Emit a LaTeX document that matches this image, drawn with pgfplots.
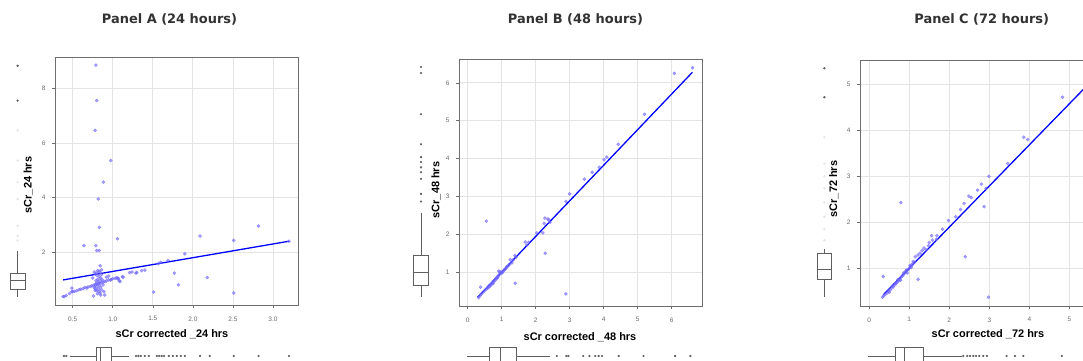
\documentclass[border=0pt]{standalone}
\usepackage{fontspec}
\setmainfont{Liberation Sans}
\newfontfamily\titlefont{DejaVu Sans}
\usepackage{pgfplots}
\pgfplotsset{compat=1.18}
\definecolor{ptcol}{RGB}{112,102,255}
\definecolor{bxcol}{RGB}{95,95,95}
\definecolor{fbxcol}{RGB}{228,228,228}
\definecolor{grcol}{RGB}{228,228,228}
\definecolor{frcol}{RGB}{110,110,110}
\definecolor{tkcol}{RGB}{105,105,105}
\definecolor{ttlcol}{RGB}{50,50,50}
\pgfplotsset{
  panel/.style={
    scale only axis, anchor=south west,
    axis line style={frcol, line width=0.9bp},
    grid=major, grid style={grcol, line width=0.8bp},
    tick align=outside, major tick length=3bp, tick style={frcol, line width=0.6bp},
    xtick pos=bottom, ytick pos=left,
    xticklabel style={font=\fontsize{6.5}{7}\selectfont, text=tkcol, yshift=-5bp},
    yticklabel style={font=\fontsize{6.5}{7}\selectfont, text=tkcol, xshift=-3bp},
    /pgf/number format/assume math mode=true,
    clip=false,
  },
  scatpts/.style={color=ptcol, only marks, mark=*, mark size=1.6bp, mark options={solid, draw=ptcol, fill=ptcol, opacity=0.6}},
  fitline/.style={color=blue, line width=1.3bp, no marks},
  bxl/.style={color=bxcol, line width=0.6bp, no marks},
  outl/.style={color=bxcol, only marks, mark=*, mark size=0.9bp, mark options={solid, draw=bxcol, fill=bxcol}},
  foutl/.style={color=fbxcol, only marks, mark=*, mark size=0.9bp, mark options={solid, draw=fbxcol, fill=fbxcol}},
}
\begin{document}
\begin{tikzpicture}
\path[use as bounding box] (0bp,0bp) rectangle (1083bp,361bp);
\clip (0bp,0bp) rectangle (1083bp,361bp);
\fill[white] (0bp,0bp) rectangle (1083bp,361bp);

% ---------------- Panel A ----------------
\begin{axis}[panel, at={(55bp,56bp)}, width=243bp, height=248bp,
  xmin=0.279, xmax=3.3125, ymin=0.06, ymax=9.16,
  xtick={0.5,1.0,1.5,2.0,2.5,3.0}, xticklabels={0.5,1.0,1.5,2.0,2.5,3.0},
  ytick={2,4,6,8}]
\addplot[scatpts] coordinates {
(0.79,8.86)(0.80,7.56)(0.78,6.47)(0.975,5.36)(0.883,4.57)(0.82,3.95)(0.833,2.91)
(0.64,2.24)(0.79,2.24)(0.80,2.06)(0.83,2.06)(1.06,2.49)(2.09,2.59)(2.51,2.43)
(2.82,2.96)(3.2,2.40)(1.9,1.94)(1.69,1.69)(1.6,1.63)(1.57,1.58)(1.77,1.23)
(2.18,1.07)(1.82,0.80)(1.51,0.53)(2.51,0.50)(1.40,1.34)(1.36,1.32)(1.30,1.25)
(1.29,1.23)(1.24,1.27)(1.21,1.25)(1.13,1.08)(1.12,1.10)(1.09,0.92)(1.06,1.03)
(0.845,1.50)(0.81,1.32)(0.77,1.27)(0.86,1.35)(0.80,1.22)(0.83,1.30)
(0.38,0.37)(0.395,0.37)(0.42,0.41)(0.46,0.48)(0.49,0.55)(0.50,0.55)(0.52,0.56)
(0.55,0.58)(0.58,0.62)(0.60,0.64)(0.63,0.66)(0.65,0.70)(0.675,0.68)(0.69,0.72)
(0.72,0.74)(0.74,0.76)(0.76,0.78)(0.78,0.80)(0.80,0.82)(0.82,0.84)(0.84,0.86)
(0.86,0.88)(0.88,0.90)(0.90,0.92)(0.92,0.94)(0.945,0.98)(0.98,1.00)(1.00,1.02)
(1.03,1.04)(1.05,1.06)(1.07,1.04)
(0.49,0.68)(0.85,0.43)(0.90,0.43)(0.76,0.39)(0.78,0.60)(0.80,0.58)(0.82,0.65)
(0.84,0.50)(0.85,0.72)(0.79,0.95)(0.81,1.00)(0.83,1.10)(0.80,1.15)(0.78,1.20)
(0.85,1.05)(0.87,0.98)(0.82,0.90)(0.86,1.18)(0.84,1.25)(0.79,0.85)(0.83,0.78)
(0.77,0.70)(0.86,0.62)(0.89,0.55)(0.81,0.47)(0.75,1.05)(0.92,1.08)(0.95,1.12)
(0.97,0.97)(1.08,0.95)(0.80,0.73)(0.84,0.95)(0.83,0.56)(0.78,0.66)(0.88,0.80)
};
\addplot[fitline] coordinates {(0.38,0.98) (3.2,2.40)};
% left marginal boxplot
\addplot[bxl] coordinates {(-0.2835,0.65)(-0.0915,0.65)(-0.0915,1.24)(-0.2835,1.24)(-0.2835,0.65)};
\addplot[bxl] coordinates {(-0.2835,0.98)(-0.0915,0.98)};
\addplot[bxl] coordinates {(-0.1875,1.24)(-0.1875,2.05)};
\addplot[bxl] coordinates {(-0.1875,0.65)(-0.1875,0.36)};
\addplot[foutl] coordinates {(-0.1875,6.47)(-0.1875,5.36)(-0.1875,4.57)(-0.1875,3.95)(-0.1875,2.96)(-0.1875,2.59)(-0.1875,2.43)};
\addplot[outl] coordinates {(-0.1875,8.84)(-0.1875,7.56)};
% bottom marginal boxplot
\addplot[bxl] coordinates {(0.79,-1.48)(0.98,-1.48)(0.98,-2.14)(0.79,-2.14)(0.79,-1.48)};
\addplot[bxl] coordinates {(0.84,-1.48)(0.84,-2.14)};
\addplot[bxl] coordinates {(0.466,-1.81)(0.79,-1.81)};
\addplot[bxl] coordinates {(0.98,-1.81)(1.20,-1.81)};
\addplot[outl] coordinates {(0.39,-1.81)(0.42,-1.81)(1.29,-1.81)(1.32,-1.81)(1.35,-1.81)(1.40,-1.81)
(1.45,-1.81)(1.55,-1.81)(1.58,-1.81)(1.61,-1.81)(1.64,-1.81)(1.70,-1.81)(1.75,-1.81)
(1.80,-1.81)(1.85,-1.81)(1.90,-1.81)(2.09,-1.81)(2.21,-1.81)(2.51,-1.81)(2.82,-1.81)(3.2,-1.81)};
\end{axis}

% ---------------- Panel B ----------------
\begin{axis}[panel, at={(459bp,55bp)}, width=243.3bp, height=247bp,
  xmin=-0.256, xmax=6.9, ymin=0.11, ymax=6.63,
  xtick={0,1,2,3,4,5,6}, ytick={1,2,3,4,5,6}]
\addplot[scatpts] coordinates {
(6.61,6.40)(6.08,6.25)(5.2,5.17)(4.43,4.38)(4.09,4.04)(4.01,3.97)(3.87,3.77)
(3.66,3.64)(3.43,3.46)(3.0,3.07)(2.89,2.87)(2.89,0.43)(2.27,2.43)(2.36,2.41)
(2.42,2.32)(2.38,2.38)(2.25,2.29)(2.21,2.04)(2.03,2.04)(2.28,1.50)(1.79,1.79)
(1.69,1.80)(1.74,1.72)(0.55,2.35)(1.40,0.71)(0.38,0.61)(1.39,1.44)(1.34,1.33)
(1.25,1.33)(1.23,1.21)(1.42,1.40)(1.30,1.25)(1.15,1.14)(1.10,1.08)
(0.32,0.33)(0.36,0.38)(0.40,0.42)(0.45,0.47)(0.5,0.52)(0.55,0.56)(0.6,0.60)
(0.63,0.64)(0.66,0.67)(0.7,0.70)(0.73,0.72)(0.76,0.77)(0.8,0.80)(0.83,0.84)
(0.86,0.87)(0.9,0.90)(0.93,0.94)(0.96,0.97)(0.99,1.0)(1.02,1.0)(1.05,1.03)
(1.08,1.07)(1.12,1.10)(1.16,1.15)(1.2,1.18)(0.88,0.86)(0.78,0.76)(0.68,0.66)
(1.0,0.98)(0.95,1.02)(0.91,1.03)(0.84,0.82)(0.74,0.70)(0.64,0.62)(0.58,0.58)
};
\addplot[fitline] coordinates {(0.29,0.34) (6.61,6.28)};
% left marginal boxplot
\addplot[bxl] coordinates {(-1.6,0.666)(-1.148,0.666)(-1.148,1.44)(-1.6,1.44)(-1.6,0.666)};
\addplot[bxl] coordinates {(-1.6,0.99)(-1.148,0.99)};
\addplot[bxl] coordinates {(-1.374,1.44)(-1.374,2.57)};
\addplot[bxl] coordinates {(-1.374,0.666)(-1.374,0.35)};
\addplot[outl] coordinates {(-1.374,6.42)(-1.374,6.26)(-1.374,5.17)(-1.374,4.38)(-1.374,4.04)
(-1.374,3.91)(-1.374,3.77)(-1.374,3.64)(-1.374,3.47)(-1.374,3.07)(-1.374,2.87)};
% bottom marginal boxplot
\addplot[bxl] coordinates {(0.63,-0.972)(1.44,-0.972)(1.44,-1.448)(0.63,-1.448)(0.63,-0.972)};
\addplot[bxl] coordinates {(0.95,-0.972)(0.95,-1.448)};
\addplot[bxl] coordinates {(-0.01,-1.21)(0.63,-1.21)};
\addplot[bxl] coordinates {(1.44,-1.21)(2.42,-1.21)};
\addplot[outl] coordinates {(2.62,-1.21)(2.90,-1.21)(2.96,-1.21)(3.40,-1.21)(3.58,-1.21)(3.75,-1.21)
(3.85,-1.21)(3.95,-1.21)(4.44,-1.21)(5.17,-1.21)(6.10,-1.21)(6.55,-1.21)};
\end{axis}

% ---------------- Panel C ----------------
\begin{axis}[panel, at={(860bp,55bp)}, width=243bp, height=246bp,
  xmin=-0.23, xmax=5.84, ymin=0.18, ymax=5.53,
  xtick={0,1,2,3,4,5}, ytick={1,2,3,4,5}]
\addplot[scatpts] coordinates {
(5.65,5.35)(4.83,4.72)(3.86,3.85)(3.96,3.80)(3.46,3.28)(2.99,3.0)(2.8,2.83)(2.92,2.74)
(2.71,2.70)(2.87,2.34)(2.55,2.54)(2.49,2.57)(2.37,2.41)(2.28,2.28)(2.16,2.12)
(1.98,2.04)(1.83,1.85)(1.56,1.71)(1.69,1.71)(1.68,1.63)(1.58,1.61)(1.5,1.56)
(1.48,1.49)(1.37,1.44)(1.32,1.39)(1.27,1.33)(1.15,1.25)(0.79,2.43)(2.4,1.25)
(2.98,0.37)(1.22,0.76)(0.35,0.82)(1.42,1.40)(1.22,1.29)(1.10,1.15)
(0.33,0.37)(0.36,0.40)(0.40,0.43)(0.44,0.46)(0.48,0.50)(0.52,0.53)(0.56,0.57)
(0.60,0.60)(0.64,0.64)(0.67,0.67)(0.70,0.70)(0.73,0.73)(0.76,0.76)(0.79,0.80)
(0.82,0.83)(0.85,0.86)(0.88,0.89)(0.91,0.92)(0.94,0.95)(0.97,0.97)(1.00,1.00)
(1.03,1.04)(1.06,1.07)(1.09,1.10)(1.13,1.13)(0.72,0.76)(0.78,0.74)(0.86,0.90)
(0.92,0.96)(1.02,1.06)(0.66,0.68)(0.58,0.62)(0.50,0.48)(0.95,0.90)(1.05,1.02)
};
\addplot[fitline] coordinates {(0.35,0.42) (5.65,5.16)};
% left marginal boxplot
\addplot[bxl] coordinates {(-1.30,0.75)(-0.94,0.75)(-0.94,1.33)(-1.30,1.33)(-1.30,0.75)};
\addplot[bxl] coordinates {(-1.30,0.97)(-0.94,0.97)};
\addplot[bxl] coordinates {(-1.12,1.33)(-1.12,1.42)};
\addplot[bxl] coordinates {(-1.12,0.75)(-1.12,0.37)};
\addplot[foutl] coordinates {(-1.12,3.85)(-1.12,3.28)(-1.12,3.0)(-1.12,2.74)(-1.12,2.43)(-1.12,2.12)(-1.12,1.85)(-1.12,1.61)};
\addplot[outl] coordinates {(-1.12,5.35)(-1.12,4.72)};
% bottom marginal boxplot
\addplot[bxl] coordinates {(0.64,-0.71)(1.34,-0.71)(1.34,-1.10)(0.64,-1.10)(0.64,-0.71)};
\addplot[bxl] coordinates {(0.875,-0.71)(0.875,-1.10)};
\addplot[bxl] coordinates {(-0.03,-0.906)(0.64,-0.906)};
\addplot[bxl] coordinates {(1.34,-0.906)(2.31,-0.906)};
\addplot[outl] coordinates {(2.35,-0.906)(2.45,-0.906)(2.52,-0.906)(2.60,-0.906)(2.67,-0.906)(2.75,-0.906)
(2.85,-0.906)(2.94,-0.906)(3.43,-0.906)(3.64,-0.906)(3.85,-0.906)(4.81,-0.906)(5.65,-0.906)};
\end{axis}

% titles and labels
\node[font=\titlefont\bfseries\fontsize{13}{15}\selectfont, text=ttlcol] at (169.5bp,342bp) {Panel A (24 hours)};
\node[font=\titlefont\bfseries\fontsize{13}{15}\selectfont, text=ttlcol] at (575.5bp,342bp) {Panel B (48 hours)};
\node[font=\titlefont\bfseries\fontsize{13}{15}\selectfont, text=ttlcol] at (981.7bp,342bp) {Panel C (72 hours)};
\node[font=\bfseries\fontsize{11}{13}\selectfont] at (172bp,26.7bp) {sCr corrected \_24 hrs};
\node[font=\bfseries\fontsize{11}{13}\selectfont] at (580bp,23.7bp) {sCr corrected \_48 hrs};
\node[font=\bfseries\fontsize{11}{13}\selectfont] at (988bp,26.7bp) {sCr corrected \_72 hrs};
\node[font=\bfseries\fontsize{11}{13}\selectfont, rotate=90] at (28.3bp,176bp) {sCr\_24 hrs};
\node[font=\bfseries\fontsize{11}{13}\selectfont, rotate=90] at (436bp,171bp) {sCr\_48 hrs};
\node[font=\bfseries\fontsize{11}{13}\selectfont, rotate=90] at (833.7bp,172bp) {sCr\_72 hrs};
\end{tikzpicture}
\end{document}
